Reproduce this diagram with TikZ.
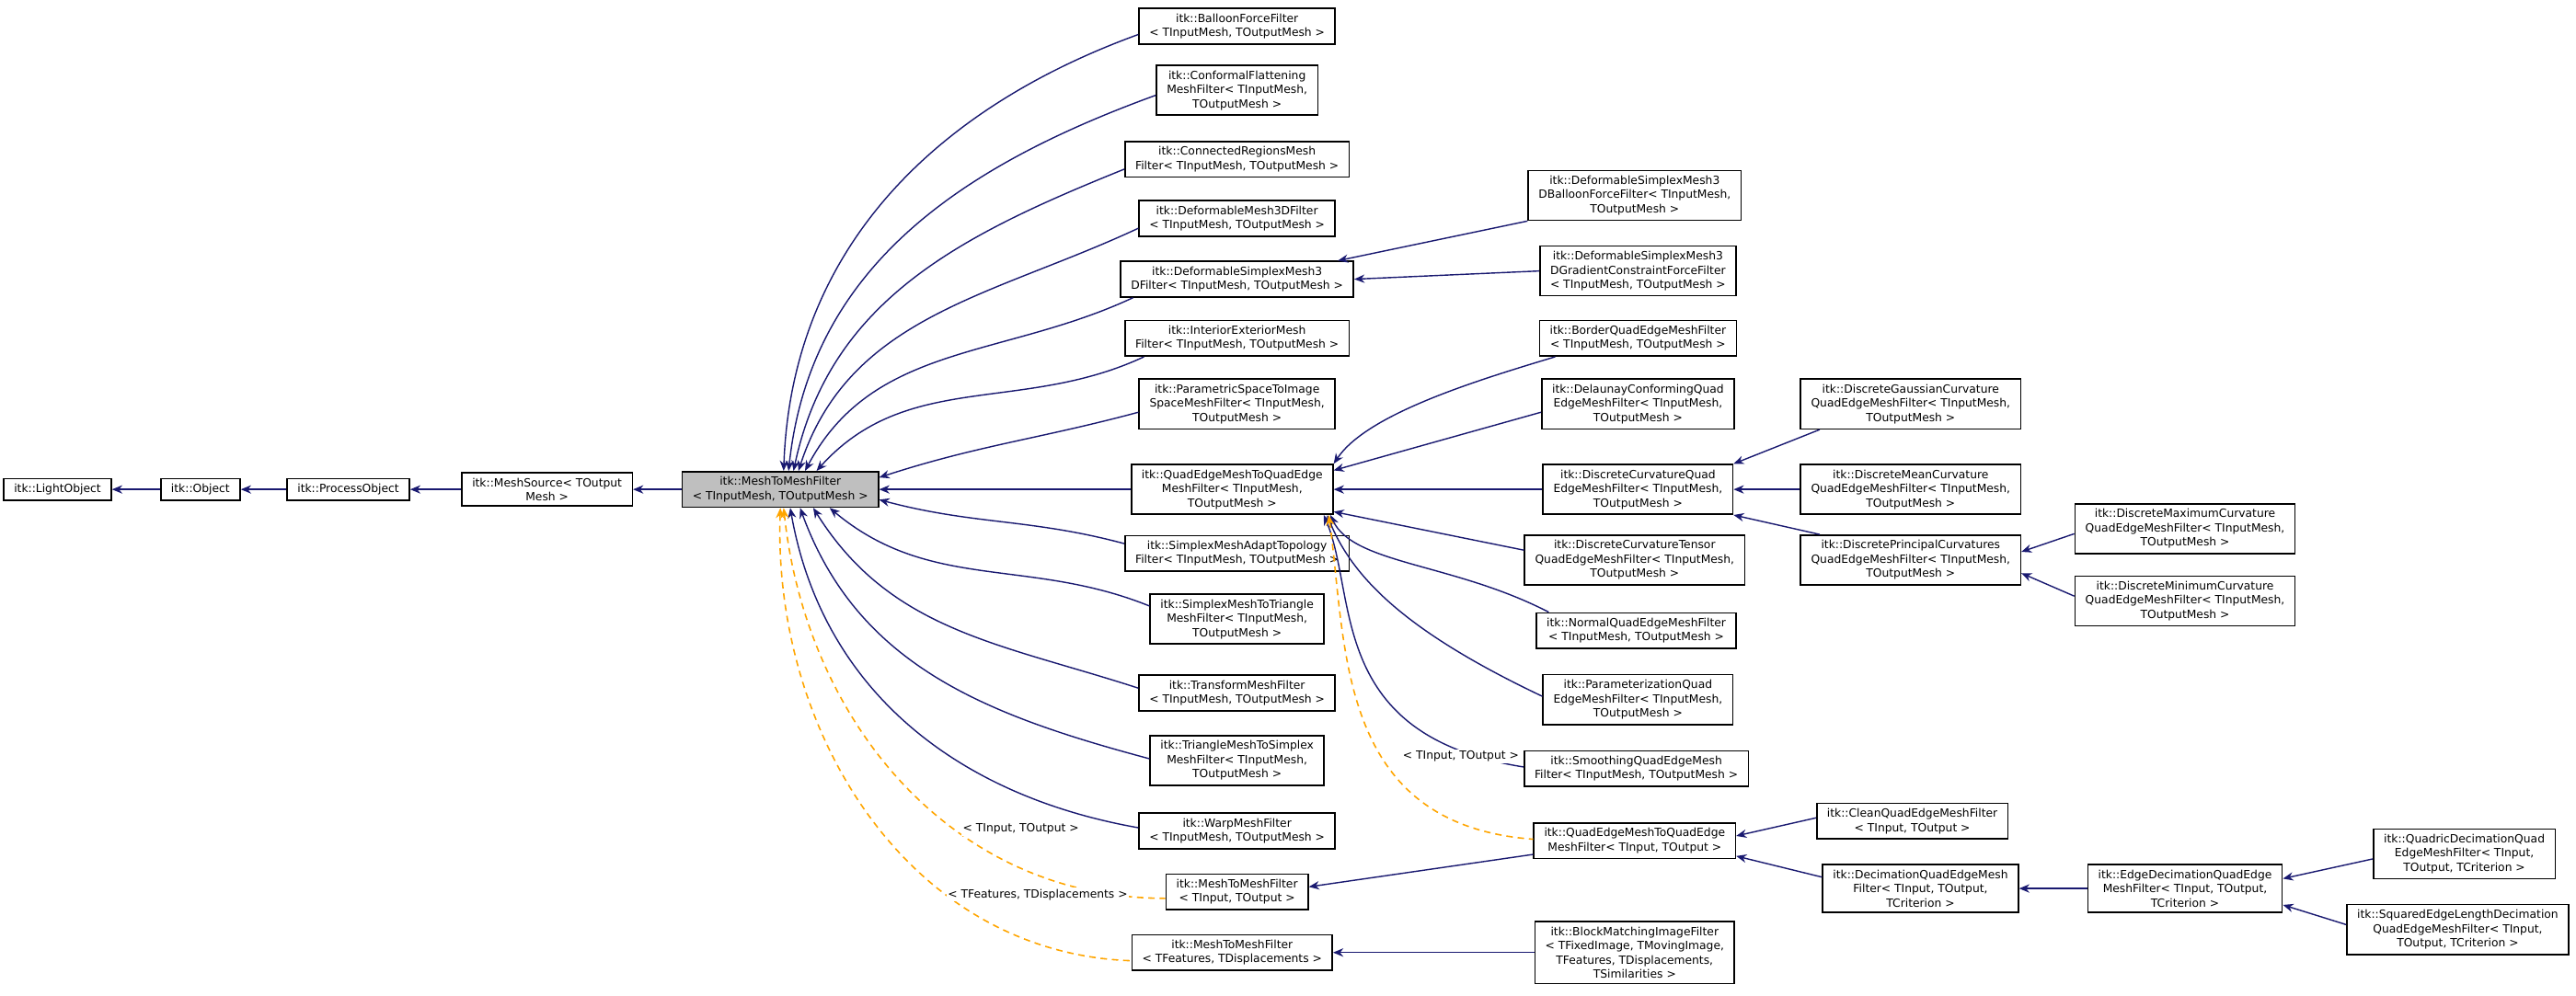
\documentclass[tikz,border=0pt]{standalone}
\usepackage{fontspec}
\setmainfont{DejaVu Sans}
\usetikzlibrary{arrows.meta,calc}
\definecolor{eb}{RGB}{25,25,112}
\definecolor{og}{RGB}{255,165,0}
\definecolor{gfill}{RGB}{191,191,191}
\begin{document}
\begin{tikzpicture}[x=0.017857cm,y=-0.017857cm,
  box/.style={draw=black,line width=0.45pt,fill=white,align=center,inner xsep=3.2pt,inner ysep=1.6pt,font=\fontsize{3.5}{4.4}\selectfont},
  inh/.style={draw=eb,line width=0.4pt,{Stealth[length=3.2pt,width=2.6pt]}-},
  tmpl/.style={draw=og,line width=0.45pt,dashed,dash pattern=on 2pt off 1.5pt,{Stealth[length=3.2pt,width=2.6pt]}-},
  lbl/.style={font=\fontsize{3.5}{4.4}\selectfont,fill=white,inner sep=0.5pt}]
\useasboundingbox (0,0) rectangle (1568,606);
% left chain
\node[box] (LO) at (35,298) {itk::LightObject};
\node[box] (OB) at (122,298) {itk::Object};
\node[box] (PO) at (212,298) {itk::ProcessObject};
\node[box] (MS) at (333,298) {itk::MeshSource< TOutput\\Mesh >};
\node[box,fill=gfill] (MM) at (475,298) {itk::MeshToMeshFilter\\< TInputMesh, TOutputMesh >};
% column 1
\node[box] (BF) at (753,16) {itk::BalloonForceFilter\\< TInputMesh, TOutputMesh >};
\node[box] (CF) at (753,55) {itk::ConformalFlattening\\MeshFilter< TInputMesh,\\TOutputMesh >};
\node[box] (CR) at (753,97) {itk::ConnectedRegionsMesh\\Filter< TInputMesh, TOutputMesh >};
\node[box] (DM) at (753,133) {itk::DeformableMesh3DFilter\\< TInputMesh, TOutputMesh >};
\node[box] (DS) at (753,170) {itk::DeformableSimplexMesh3\\DFilter< TInputMesh, TOutputMesh >};
\node[box] (IE) at (753,206) {itk::InteriorExteriorMesh\\Filter< TInputMesh, TOutputMesh >};
\node[box] (PS) at (753,246) {itk::ParametricSpaceToImage\\SpaceMeshFilter< TInputMesh,\\TOutputMesh >};
\node[box] (QE) at (750,298) {itk::QuadEdgeMeshToQuadEdge\\MeshFilter< TInputMesh,\\TOutputMesh >};
\node[box] (SA) at (753,337) {itk::SimplexMeshAdaptTopology\\Filter< TInputMesh, TOutputMesh >};
\node[box] (ST) at (753,377) {itk::SimplexMeshToTriangle\\MeshFilter< TInputMesh,\\TOutputMesh >};
\node[box] (TF) at (753,422) {itk::TransformMeshFilter\\< TInputMesh, TOutputMesh >};
\node[box] (TS) at (753,463) {itk::TriangleMeshToSimplex\\MeshFilter< TInputMesh,\\TOutputMesh >};
\node[box] (WF) at (753,506) {itk::WarpMeshFilter\\< TInputMesh, TOutputMesh >};
\node[box] (MB) at (753,543) {itk::MeshToMeshFilter\\< TInput, TOutput >};
\node[box] (MC) at (750,580) {itk::MeshToMeshFilter\\< TFeatures, TDisplacements >};
% column 2
\node[box] (DB) at (995,119) {itk::DeformableSimplexMesh3\\DBalloonForceFilter< TInputMesh,\\TOutputMesh >};
\node[box] (DG) at (997,165) {itk::DeformableSimplexMesh3\\DGradientConstraintForceFilter\\< TInputMesh, TOutputMesh >};
\node[box] (BQ) at (997,206) {itk::BorderQuadEdgeMeshFilter\\< TInputMesh, TOutputMesh >};
\node[box] (DC) at (997,246) {itk::DelaunayConformingQuad\\EdgeMeshFilter< TInputMesh,\\TOutputMesh >};
\node[box] (CQ) at (997,298) {itk::DiscreteCurvatureQuad\\EdgeMeshFilter< TInputMesh,\\TOutputMesh >};
\node[box] (CT) at (995,341) {itk::DiscreteCurvatureTensor\\QuadEdgeMeshFilter< TInputMesh,\\TOutputMesh >};
\node[box] (NQ) at (996,384) {itk::NormalQuadEdgeMeshFilter\\< TInputMesh, TOutputMesh >};
\node[box] (PQ) at (997,426) {itk::ParameterizationQuad\\EdgeMeshFilter< TInputMesh,\\TOutputMesh >};
\node[box] (SQ) at (996,468) {itk::SmoothingQuadEdgeMesh\\Filter< TInputMesh, TOutputMesh >};
\node[box] (Q2) at (995,512) {itk::QuadEdgeMeshToQuadEdge\\MeshFilter< TInput, TOutput >};
\node[box] (BM) at (995,580) {itk::BlockMatchingImageFilter\\< TFixedImage, TMovingImage,\\TFeatures, TDisplacements,\\TSimilarities >};
% column 3
\node[box] (GC) at (1163,246) {itk::DiscreteGaussianCurvature\\QuadEdgeMeshFilter< TInputMesh,\\TOutputMesh >};
\node[box] (MN) at (1163,298) {itk::DiscreteMeanCurvature\\QuadEdgeMeshFilter< TInputMesh,\\TOutputMesh >};
\node[box] (PC) at (1163,341) {itk::DiscretePrincipalCurvatures\\QuadEdgeMeshFilter< TInputMesh,\\TOutputMesh >};
\node[box] (CL) at (1164,500) {itk::CleanQuadEdgeMeshFilter\\< TInput, TOutput >};
\node[box] (DQ) at (1169,541) {itk::DecimationQuadEdgeMesh\\Filter< TInput, TOutput,\\TCriterion >};
% column 4
\node[box] (MX) at (1330,322) {itk::DiscreteMaximumCurvature\\QuadEdgeMeshFilter< TInputMesh,\\TOutputMesh >};
\node[box] (MI) at (1330,366) {itk::DiscreteMinimumCurvature\\QuadEdgeMeshFilter< TInputMesh,\\TOutputMesh >};
\node[box] (ED) at (1330,541) {itk::EdgeDecimationQuadEdge\\MeshFilter< TInput, TOutput,\\TCriterion >};
% column 5
\node[box] (QD) at (1500,520) {itk::QuadricDecimationQuad\\EdgeMeshFilter< TInput,\\TOutput, TCriterion >};
\node[box] (SE) at (1496,566) {itk::SquaredEdgeLengthDecimation\\QuadEdgeMeshFilter< TInput,\\TOutput, TCriterion >};
% edges left chain
\draw[inh] (LO.east) -- (OB.west);
\draw[inh] (OB.east) -- (PO.west);
\draw[inh] (PO.east) -- (MS.west);
\draw[inh] (MS.east) -- (MM.west);
% edges into MM
\draw[inh] ($(MM.north)+(2,0)$) to[out=88,in=200] ($(BF.west)+(0,5)$);
\draw[inh] ($(MM.north)+(5,0)$) to[out=84,in=200] ($(CF.west)+(0,3)$);
\draw[inh] ($(MM.north)+(8,0)$) to[out=78,in=202] ($(CR.west)+(0,6)$);
\draw[inh] ($(MM.north)+(11,0)$) to[out=72,in=205] ($(DM.west)+(0,6)$);
\draw[inh] ($(MM.north)+(15,0)$) to[out=62,in=205] ($(DS.south west)+(8,0)$);
\draw[inh] ($(MM.north)+(22,0)$) to[out=48,in=205] ($(IE.south west)+(12,0)$);
\draw[inh] ($(MM.north east)+(0,4)$) to[out=18,in=195] ($(PS.west)+(0,5)$);
\draw[inh] (MM.east) -- (QE.west);
\draw[inh] ($(MM.south east)+(0,-5)$) to[out=-15,in=165] ($(SA.west)+(0,-6)$);
\draw[inh] ($(MM.south)+(30,0)$) to[out=-40,in=158] ($(ST.west)+(0,-8)$);
\draw[inh] ($(MM.south)+(20,0)$) to[out=-58,in=162] ($(TF.west)+(0,-3)$);
\draw[inh] ($(MM.south)+(12,0)$) to[out=-70,in=165] ($(TS.west)+(0,-1)$);
\draw[inh] ($(MM.south)+(6,0)$) to[out=-80,in=170] ($(WF.west)+(0,-2)$);
\draw[tmpl] ($(MM.south)+(2,0)$) to[out=-84,in=180] node[lbl,pos=0.62,right=2pt] {< TInput, TOutput >} ($(MB.west)+(0,4)$);
\draw[tmpl] ($(MM.south)+(0,0)$) to[out=-92,in=178] node[lbl,pos=0.68,right=0pt] {< TFeatures, TDisplacements >} ($(MC.west)+(0,5)$);
% column 2 edges
\draw[inh] ($(DS.north east)+(-10,0)$) -- (DB.south west);
\draw[inh] (DS.east) -- (DG.west);
\draw[inh] ($(QE.north east)+(0,0)$) .. controls ($(QE.north east)+(20,-30)$) and ($(BQ.south west)+(-40,15)$) .. ($(BQ.south west)+(10,0)$);
\draw[inh] ($(QE.north east)+(0,4)$) -- ($(DC.west)+(0,5)$);
\draw[inh] (QE.east) -- (CQ.west);
\draw[inh] ($(QE.south east)+(0,-2)$) -- ($(CT.west)+(0,-6)$);
\draw[inh] ($(QE.south east)+(-2,0)$) .. controls ($(QE.south east)+(12,30)$) and ($(NQ.north west)+(-50,-30)$) .. ($(NQ.north west)+(8,0)$);
\draw[inh] ($(QE.south east)+(-4,0)$) .. controls ($(QE.south east)+(12,40)$) and ($(PQ.west)+(-80,-40)$) .. ($(PQ.west)+(0,-2)$);
\draw[inh] ($(QE.south east)+(-6,0)$) .. controls ($(QE.south east)+(15,50)$) and ($(SQ.west)+(-120,-20)$) .. ($(SQ.west)+(0,-1)$);
\draw[tmpl] ($(QE.south east)+(-3,0)$) .. controls ($(QE.south east)+(8,80)$) and ($(Q2.west)+(-120,-10)$) .. node[lbl,pos=0.6,right=6pt] {< TInput, TOutput >} ($(Q2.west)+(0,-1)$);
% column 3 edges
\draw[inh] (CQ.north east) -- ($(GC.south west)+(12,0)$);
\draw[inh] (CQ.east) -- (MN.west);
\draw[inh] (CQ.south east) -- ($(PC.north west)+(12,0)$);
\draw[inh] ($(PC.east)+(0,-5)$) -- ($(MX.west)+(0,3)$);
\draw[inh] ($(PC.east)+(0,8)$) -- ($(MI.west)+(0,-3)$);
\draw[inh] ($(Q2.east)+(0,-3)$) -- ($(CL.west)+(0,-2)$);
\draw[inh] ($(Q2.south east)+(0,-2)$) -- ($(DQ.north west)+(0,8)$);
\draw[inh] ($(MB.east)+(0,-3)$) -- ($(Q2.south west)+(0,-3)$);
\draw[inh] (MC.east) -- (BM.west);
\draw[inh] (DQ.east) -- (ED.west);
\draw[inh] ($(ED.east)+(0,-6)$) -- ($(QD.west)+(0,3)$);
\draw[inh] ($(ED.east)+(0,10)$) -- ($(SE.west)+(0,-3)$);
\end{tikzpicture}
\end{document}
